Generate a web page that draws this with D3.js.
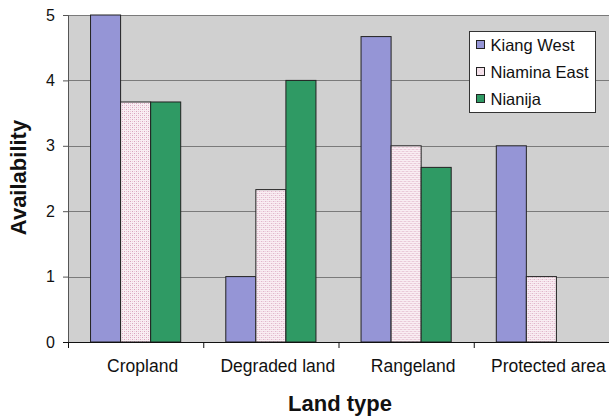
<!DOCTYPE html>
<html>
<head>
<meta charset="utf-8">
<script src="https://cdn.jsdelivr.net/npm/d3@7"></script>
<style>
  html, body { margin: 0; padding: 0; background: #fff; }
  svg { display: block; font-family: "Liberation Sans", Arial, sans-serif; }
</style>
</head>
<body>
<svg id="chart" width="609" height="417"></svg>
<script>
// Land types along the x axis
const categories = ["Cropland", "Degraded land", "Rangeland", "Protected area"];
// Districts (one bar per district in each land type)
const seriesNames = ["Kiang West", "Niamina East", "Nianija"];
// Availability scores per district, in category order
const kiangWest   = [5, 1, 4.67, 3];
const niaminaEast = [3.67, 2.33, 3, 1];
const nianija     = [3.67, 4, 2.67, 0];
const yTicks = [0, 1, 2, 3, 4, 5];

const seriesValues = [kiangWest, niaminaEast, nianija];

const svg = d3.select("#chart");
const W = 609, H = 417;
const margin = { left: 68, right: 0, top: 15, bottom: 75 };
const plotW = W - margin.left - margin.right;
const plotH = H - margin.top - margin.bottom;

// Dotted pink fill for the middle series
const defs = svg.append("defs");
const pat = defs.append("pattern")
  .attr("id", "dots")
  .attr("width", 4).attr("height", 4)
  .attr("patternUnits", "userSpaceOnUse");
pat.append("rect").attr("width", 4).attr("height", 4).attr("fill", "#f9eef3");
pat.append("rect").attr("x", 0).attr("y", 0).attr("width", 1).attr("height", 1).attr("fill", "#d9a3bd");
pat.append("rect").attr("x", 2).attr("y", 2).attr("width", 1).attr("height", 1).attr("fill", "#d9a3bd");
pat.append("rect").attr("x", 2).attr("y", 0).attr("width", 1).attr("height", 1).attr("fill", "#ecccdb");
pat.append("rect").attr("x", 0).attr("y", 2).attr("width", 1).attr("height", 1).attr("fill", "#ecccdb");

const colors = ["#9595d6", "url(#dots)", "#2f9a64"];
const swatchColors = ["#9595d6", "url(#dots)", "#2f9a64"];

const x0 = d3.scaleBand().domain(categories).range([0, plotW]).paddingInner(0).paddingOuter(0);
// Bars occupy the band with a 1.5 bar-width gap split on both sides
const groupFrac = 3 / 4.5;
const x1 = d3.scaleBand().domain(seriesNames)
  .range([x0.bandwidth() * (1 - groupFrac) / 2, x0.bandwidth() * (1 + groupFrac) / 2]);
const y = d3.scaleLinear().domain([0, 5]).range([plotH, 0]);

const g = svg.append("g").attr("transform", `translate(${margin.left},${margin.top})`);

// Plot background
g.append("rect").attr("x", 0).attr("y", 0).attr("width", plotW).attr("height", plotH)
  .attr("fill", "#d0d0d0");

// Horizontal grid lines
g.append("g").selectAll("line").data(yTicks.filter(d => d > 0)).join("line")
  .attr("x1", 0).attr("x2", plotW)
  .attr("y1", d => Math.round(y(d)) + 0.5).attr("y2", d => Math.round(y(d)) + 0.5)
  .attr("stroke", "#7a7a7a").attr("stroke-width", 1.2);

// Bars
const groups = g.append("g").selectAll("g").data(categories).join("g")
  .attr("transform", d => `translate(${x0(d)},0)`);
groups.selectAll("rect")
  .data((c, ci) => seriesNames.map((s, si) => ({ s, si, v: seriesValues[si][ci] })).filter(d => d.v > 0))
  .join("rect")
  .attr("x", d => x1(d.s))
  .attr("width", x1.bandwidth())
  .attr("y", d => y(d.v))
  .attr("height", d => plotH - y(d.v))
  .attr("fill", d => colors[d.si])
  .attr("stroke", "#222")
  .attr("stroke-width", 1);

// Y axis
const yAxis = g.append("g").call(d3.axisLeft(y).tickValues(yTicks).tickSize(5).tickPadding(8).tickFormat(d3.format("d")));
yAxis.select(".domain").attr("stroke", "#555");
yAxis.selectAll(".tick line").attr("stroke", "#555");
yAxis.selectAll("text").attr("font-size", 16).attr("fill", "#111")
  .attr("font-family", "'Liberation Sans', Arial, sans-serif");

// X axis with ticks at category boundaries
const xAxisG = g.append("g").attr("transform", `translate(0,${plotH})`);
xAxisG.append("line").attr("x1", -5).attr("x2", plotW).attr("y1", 0.5).attr("y2", 0.5)
  .attr("stroke", "#111");
xAxisG.selectAll("line.bound").data(categories).join("line").attr("class", "bound")
  .attr("x1", d => x0(d) + 0.5).attr("x2", d => x0(d) + 0.5)
  .attr("y1", 0).attr("y2", 6).attr("stroke", "#111");
xAxisG.selectAll("text").data(categories).join("text")
  .attr("x", d => x0(d) + x0.bandwidth() / 2 + 7)
  .attr("y", 30)
  .attr("text-anchor", "middle")
  .attr("font-size", 17.5).attr("fill", "#111")
  .text(d => d);

// Axis titles
svg.append("text").attr("x", 340).attr("y", 411)
  .attr("text-anchor", "middle").attr("font-size", 22).attr("font-weight", "bold").attr("fill", "#111")
  .text("Land type");
svg.append("text").attr("transform", `translate(26,${margin.top + plotH / 2 - 1}) rotate(-90)`)
  .attr("text-anchor", "middle").attr("font-size", 22).attr("font-weight", "bold").attr("fill", "#111")
  .text("Availability");

// Legend
const lg = svg.append("g").attr("transform", "translate(469.5,31.5)");
lg.append("rect").attr("width", 126).attr("height", 81).attr("fill", "#fff").attr("stroke", "#333");
const items = lg.selectAll("g").data(seriesNames).join("g")
  .attr("transform", (d, i) => `translate(7,${14 + i * 27})`);
items.append("rect").attr("x", 0).attr("y", -5).attr("width", 8).attr("height", 8)
  .attr("fill", (d, i) => swatchColors[i]).attr("stroke", "#222");
items.append("text").attr("x", 14).attr("y", 5.5).attr("font-size", 16.5).attr("fill", "#111").text(d => d);
</script>
</body>
</html>
